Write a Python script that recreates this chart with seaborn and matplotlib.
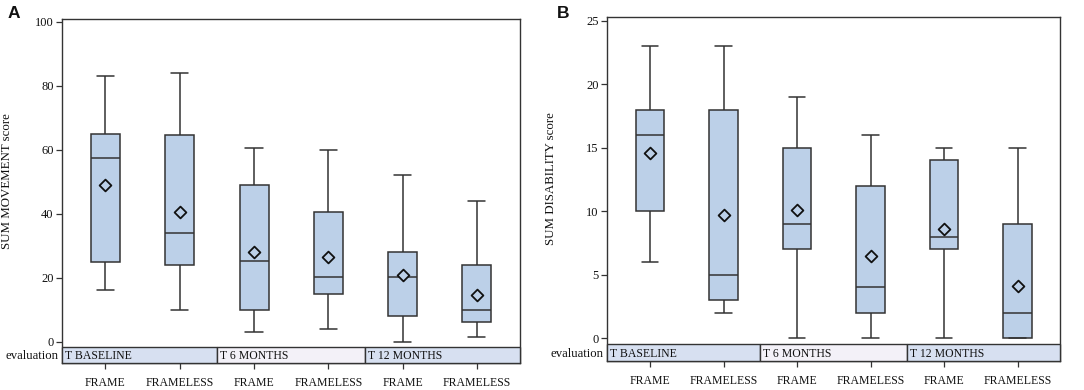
import numpy as np
import pandas as pd
import matplotlib
matplotlib.use('Agg')
import matplotlib.pyplot as plt
import matplotlib.transforms as mtransforms
from matplotlib.patches import Rectangle
import seaborn as sns

# %% data (per box: FRAME / FRAMELESS for each evaluation)
evaluations = ['T BASELINE', 'T 6 MONTHS', 'T 12 MONTHS']
devices = ['FRAME', 'FRAMELESS']

mov_min = [16, 10, 3, 4, 0, 1.5]
mov_q1 = [25, 24, 10, 15, 8, 6]
mov_med = [57.5, 34, 25.3, 20.1, 20.3, 10]
mov_q3 = [65, 64.5, 49, 40.5, 28, 24]
mov_max = [83, 84, 60.5, 60, 52, 44]
mov_mean = [49, 40.6, 28, 26.4, 20.8, 14.5]

dis_min = [6, 2, 0, 0, 0, 0]
dis_q1 = [10, 3, 7, 2, 7, 0]
dis_med = [16, 5, 9, 4, 8, 2]
dis_q3 = [18, 18, 15, 12, 14, 9]
dis_max = [23, 23, 19, 16, 15, 15]
dis_mean = [14.6, 9.7, 10.1, 6.45, 8.6, 4.1]

box_fill = '#bcd0e8'
edge = '#333333'
band_colors = ['#d7e0f1', '#f3f1f8', '#d7e0f1']
boxes = [f'{e}|{d}' for e in evaluations for d in devices]


def box_table(lo, q1, med, q3, hi):
    rows = []
    for i, b in enumerate(boxes):
        for v in (lo[i], q1[i], med[i], q3[i], hi[i]):
            rows.append({'box': b, 'score': v})
    return pd.DataFrame(rows)


def draw_panel(ax, df, means, ylim, yticks, ylabel, label_x):
    sns.boxplot(data=df, x='box', y='score', order=boxes, ax=ax,
                color=box_fill, saturation=1, linecolor=edge, linewidth=1.1,
                width=0.39, whis=(0, 100), showfliers=False, capwidths=0.23)
    mean_df = pd.DataFrame({'box': boxes, 'mean': means})
    sns.stripplot(data=mean_df, x='box', y='mean', order=boxes, ax=ax,
                  jitter=False, marker='D', size=6, color=box_fill,
                  edgecolor='#111111', linewidth=1.3, zorder=5)
    xlim = (-0.585, 5.58)
    ax.set_xlim(xlim)
    ax.set_ylim(ylim)
    ax.set_yticks(yticks)
    ax.set_xticks(range(len(boxes)))
    ax.set_xticklabels(devices * 3)
    ax.set_xlabel('')
    ax.set_ylabel(ylabel, fontsize=9.3)
    ax.yaxis.set_label_coords(label_x, 0.53)
    ax.tick_params(axis='both', length=4, width=0.9, color=edge, direction='out')
    ax.tick_params(axis='x', labelsize=8.5, pad=6)
    ax.tick_params(axis='y', labelsize=9, pad=2)
    for s in ax.spines.values():
        s.set_visible(True)
        s.set_color(edge)
        s.set_linewidth(1.0)
    # evaluation band at the bottom of the axes
    trans = mtransforms.blended_transform_factory(ax.transData, ax.transAxes)
    bounds = [xlim[0], 1.5, 3.5, xlim[1]]
    band_h = 0.048
    for k, ev in enumerate(evaluations):
        ax.add_patch(Rectangle((bounds[k], 0), bounds[k + 1] - bounds[k], band_h,
                               transform=trans, facecolor=band_colors[k],
                               edgecolor=edge, linewidth=1.0, zorder=6, clip_on=False))
        ax.text(bounds[k] + 0.04, band_h / 2, ev, transform=trans, fontsize=8.5,
                ha='left', va='center_baseline', zorder=7)
    ax.text(-0.008, band_h / 2, 'evaluation', transform=ax.transAxes, fontsize=9.2,
            ha='right', va='center_baseline')


# %% plot
sns.set_style('ticks')
plt.rcParams['font.family'] = ['Liberation Serif', 'DejaVu Serif']
plt.rcParams['text.color'] = '#111111'
plt.rcParams['axes.labelcolor'] = '#111111'
plt.rcParams['xtick.color'] = '#111111'
plt.rcParams['ytick.color'] = '#111111'

fig = plt.figure(figsize=(10.84, 3.9), dpi=100)
ax_a = fig.add_axes([0.0572, 0.0692, 0.4225, 0.882])
ax_b = fig.add_axes([0.560, 0.0744, 0.418, 0.882])

draw_panel(ax_a, box_table(mov_min, mov_q1, mov_med, mov_q3, mov_max), mov_mean,
           (-6.66, 100.8), [0, 20, 40, 60, 80, 100], 'SUM MOVEMENT score', -0.107)
draw_panel(ax_b, box_table(dis_min, dis_q1, dis_med, dis_q3, dis_max), dis_mean,
           (-1.81, 25.3), [0, 5, 10, 15, 20, 25], 'SUM DISABILITY score', -0.110)

fig.text(8 / 1084, 1 - 18 / 390, 'A', fontsize=12.5, fontweight='bold',
         family='Liberation Sans', ha='left', va='baseline')
fig.text(557 / 1084, 1 - 18 / 390, 'B', fontsize=12.5, fontweight='bold',
         family='Liberation Sans', ha='left', va='baseline')

fig.savefig('out.png', dpi=100)
